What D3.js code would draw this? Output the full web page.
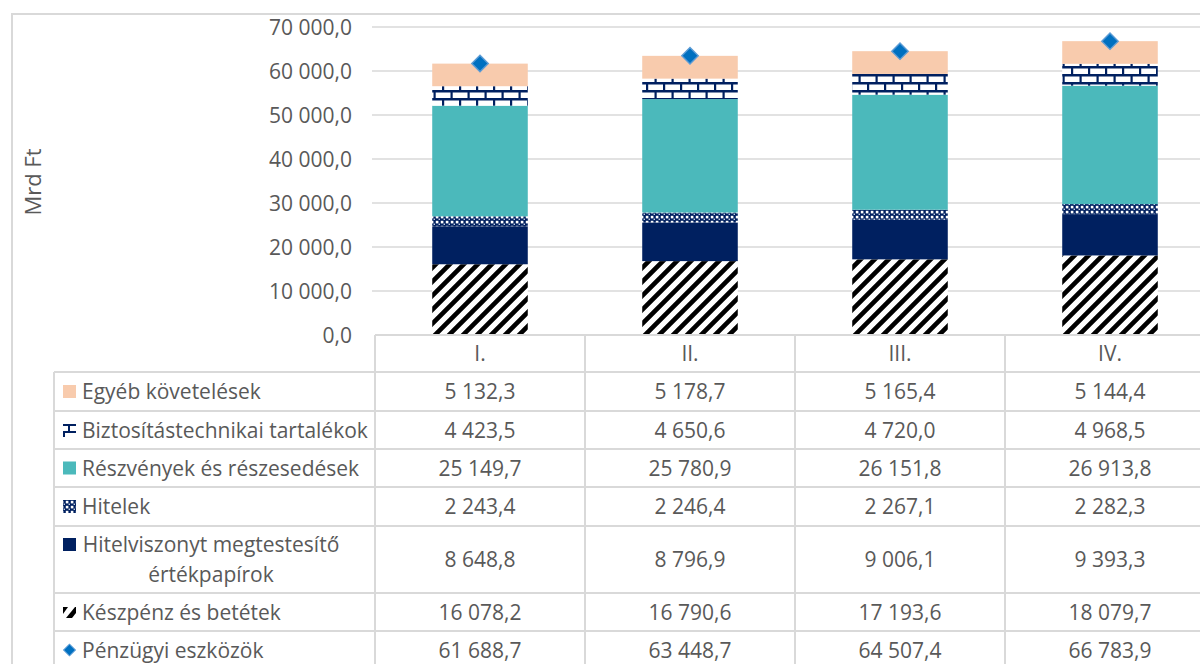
<!DOCTYPE html>
<html><head><meta charset="utf-8">
<script src="https://cdn.jsdelivr.net/npm/d3@7"></script>
<style>
html,body{margin:0;padding:0;background:#fff;}
svg{display:block;font-family:"Open Sans",sans-serif;}
</style></head>
<body><svg id="c" width="1200" height="664"></svg>
<script>
const categories = ["I.", "II.", "III.", "IV."];
const keszpenz = [16078.2, 16790.6, 17193.6, 18079.7];
const hitelviszonyt = [8648.8, 8796.9, 9006.1, 9393.3];
const hitelek = [2243.4, 2246.4, 2267.1, 2282.3];
const reszvenyek = [25149.7, 25780.9, 26151.8, 26913.8];
const biztositas = [4423.5, 4650.6, 4720.0, 4968.5];
const egyeb = [5132.3, 5178.7, 5165.4, 5144.4];
const penzugyi = [61688.7, 63448.7, 64507.4, 66783.9];
const yTicks = [0, 10000, 20000, 30000, 40000, 50000, 60000, 70000];

// stacking order bottom -> top
const seriesDefs = [
  {name: "Készpénz és betétek", values: keszpenz, fill: "url(#pStripe)"},
  {name: "Hitelviszonyt megtestesítő értékpapírok", values: hitelviszonyt, fill: "#002060"},
  {name: "Hitelek", values: hitelek, fill: "url(#pDots)"},
  {name: "Részvények és részesedések", values: reszvenyek, fill: "#4bb9bb"},
  {name: "Biztosítástechnikai tartalékok", values: biztositas, fill: "url(#pBrick)"},
  {name: "Egyéb követelések", values: egyeb, fill: "#f8cbad"}
];

const svg = d3.select("#c");
const grey = "#d9d9d9", txt = "#595959", navy = "#002060";
const hu = d3.formatLocale({decimal: ",", thousands: " ", grouping: [3], currency: ["", ""]});
const fmt = hu.format(",.1f");

// patterns
const defs = svg.append("defs");
const ps = defs.append("pattern").attr("id", "pStripe").attr("patternUnits", "userSpaceOnUse")
  .attr("width", 14).attr("height", 14);
ps.append("rect").attr("width", 14).attr("height", 14).attr("fill", "#fff");
ps.append("path").attr("d", "M-2,16 L16,-2 M-9,9 L9,-9 M5,23 L23,5").attr("stroke", "#000").attr("stroke-width", 4.6);

const pd = defs.append("pattern").attr("id", "pDots").attr("patternUnits", "userSpaceOnUse")
  .attr("width", 5).attr("height", 5);
pd.append("rect").attr("width", 5).attr("height", 5).attr("fill", navy);
pd.append("rect").attr("x", 0.8).attr("y", 0.8).attr("width", 2.6).attr("height", 2.6).attr("fill", "#fff");
pd.append("rect").attr("x", 3.6).attr("y", 3.6).attr("width", 1.4).attr("height", 1.4).attr("fill", "#c9d3e6");

const pb = defs.append("pattern").attr("id", "pBrick").attr("patternUnits", "userSpaceOnUse")
  .attr("width", 17).attr("height", 16).attr("y", 2);
pb.append("rect").attr("width", 17).attr("height", 16).attr("fill", "#fff");
pb.append("rect").attr("x", 0).attr("y", 0).attr("width", 17).attr("height", 2.5).attr("fill", navy);
pb.append("rect").attr("x", 0).attr("y", 8).attr("width", 17).attr("height", 2.5).attr("fill", navy);
pb.append("rect").attr("x", 0).attr("y", 0).attr("width", 2.2).attr("height", 8).attr("fill", navy);
pb.append("rect").attr("x", 8.5).attr("y", 8).attr("width", 2.2).attr("height", 8).attr("fill", navy);

// outer border
svg.append("rect").attr("x", 12).attr("y", 14).attr("width", 1300).attr("height", 800)
  .attr("fill", "none").attr("stroke", grey).attr("stroke-width", 2);

// scales
const x = d3.scaleBand().domain(categories).range([375, 1215]);
const y = d3.scaleLinear().domain([0, 70000]).range([335, 27]);
const barW = x.bandwidth() * 0.455;

// gridlines
svg.append("g").selectAll("line").data(yTicks.filter(d => d > 0)).join("line")
  .attr("x1", 372).attr("x2", 1215).attr("y1", d => y(d)).attr("y2", d => y(d))
  .attr("stroke", grey).attr("stroke-width", 1.3);

// y axis labels
svg.append("g").selectAll("text").data(yTicks).join("text")
  .attr("x", 352).attr("y", d => y(d)).attr("dy", "0.36em").attr("text-anchor", "end")
  .attr("font-size", 21).attr("fill", txt).text(d => fmt(d));

svg.append("text").attr("transform", "translate(41,182) rotate(-90)")
  .attr("text-anchor", "middle").attr("font-size", 22).attr("fill", txt).text("Mrd Ft");

// stacks
const stackData = categories.map((c, i) => {
  const o = {cat: c};
  seriesDefs.forEach((s, j) => o["s" + j] = s.values[i]);
  return o;
});
const stacked = d3.stack().keys(seriesDefs.map((s, j) => "s" + j))(stackData);
const gBars = svg.append("g");
stacked.forEach((layer, j) => {
  gBars.append("g").selectAll("rect").data(layer).join("rect")
    .attr("x", d => x(d.data.cat) + (x.bandwidth() - barW) / 2)
    .attr("width", barW)
    .attr("y", d => y(d[1]))
    .attr("height", d => y(d[0]) - y(d[1]))
    .attr("fill", seriesDefs[j].fill);
});

// diamonds
svg.append("g").selectAll("path").data(categories).join("path")
  .attr("d", d3.symbol().type(d3.symbolSquare).size(135)())
  .attr("transform", (c, i) => `translate(${x(c) + x.bandwidth() / 2},${y(penzugyi[i])}) rotate(45)`)
  .attr("fill", "#0070c0").attr("stroke", "#5b9bd5").attr("stroke-width", 1.4);

// data table
const rows = [
  {label: ["Egyéb követelések"], values: egyeb, icon: "egyeb"},
  {label: ["Biztosítástechnikai tartalékok"], values: biztositas, icon: "brick"},
  {label: ["Részvények és részesedések"], values: reszvenyek, icon: "teal"},
  {label: ["Hitelek"], values: hitelek, icon: "dots"},
  {label: ["Hitelviszonyt megtestesítő", "értékpapírok"], values: hitelviszonyt, icon: "navy"},
  {label: ["Készpénz és betétek"], values: keszpenz, icon: "stripe"},
  {label: ["Pénzügyi eszközök"], values: penzugyi, icon: "diamond"}
];
const rowEdges = [372, 411, 449, 487, 526, 593, 631, 669];
const gT = svg.append("g");
gT.append("line").attr("x1", 375).attr("x2", 1215).attr("y1", 335).attr("y2", 335).attr("stroke", grey).attr("stroke-width", 2);
rowEdges.forEach(yy => gT.append("line").attr("x1", 54).attr("x2", 1215).attr("y1", yy).attr("y2", yy).attr("stroke", grey).attr("stroke-width", 2));
gT.append("line").attr("x1", 54).attr("x2", 54).attr("y1", 372).attr("y2", 700).attr("stroke", grey).attr("stroke-width", 2);
categories.forEach(c => gT.append("line").attr("x1", x(c)).attr("x2", x(c)).attr("y1", 335).attr("y2", 700).attr("stroke", grey).attr("stroke-width", 2));
gT.selectAll("text.hdr").data(categories).join("text").attr("class", "hdr")
  .attr("x", c => x(c) + x.bandwidth() / 2).attr("y", 353).attr("dy", "0.36em")
  .attr("text-anchor", "middle").attr("font-size", 21).attr("fill", txt).text(c => c);

rows.forEach((r, i) => {
  const top = rowEdges[i], bot = rowEdges[i + 1], cy = (top + bot) / 2;
  categories.forEach((c, k) => {
    gT.append("text").attr("x", x(c) + x.bandwidth() / 2).attr("y", cy).attr("dy", "0.36em")
      .attr("text-anchor", "middle").attr("font-size", 21).attr("fill", txt).text(fmt(r.values[k]));
  });
  if (r.label.length === 1) {
    gT.append("text").attr("x", 82).attr("y", cy).attr("dy", "0.36em")
      .attr("font-size", 21).attr("fill", txt).text(r.label[0]);
  } else {
    gT.append("text").attr("x", 211).attr("y", cy - 15).attr("dy", "0.36em").attr("text-anchor", "middle")
      .attr("font-size", 21).attr("fill", txt).text(r.label[0]);
    gT.append("text").attr("x", 211).attr("y", cy + 15).attr("dy", "0.36em").attr("text-anchor", "middle")
      .attr("font-size", 21).attr("fill", txt).text(r.label[1]);
  }
  const iy = r.label.length === 1 ? cy : cy - 15;
  const ix = 63, s = 13;
  const g = gT.append("g");
  if (r.icon === "egyeb") g.append("rect").attr("x", ix).attr("y", iy - s / 2).attr("width", s).attr("height", s).attr("fill", "#f8cbad");
  if (r.icon === "teal") g.append("rect").attr("x", ix).attr("y", iy - s / 2).attr("width", s).attr("height", s).attr("fill", "#4bb9bb");
  if (r.icon === "navy") g.append("rect").attr("x", ix).attr("y", iy - s / 2).attr("width", s).attr("height", s).attr("fill", navy);
  if (r.icon === "dots") g.append("rect").attr("x", ix).attr("y", iy - s / 2).attr("width", s).attr("height", s).attr("fill", "url(#pDots)");
  if (r.icon === "stripe") {
    g.append("path").attr("d", `M${ix},${iy + 2} L${ix + 5},${iy - 5} L${ix},${iy - 5} Z`).attr("fill", "#000");
    g.append("path").attr("d", `M${ix + 3},${iy + 6} L${ix + 12},${iy - 5} L${ix + 13},${iy - 5} L${ix + 13},${iy + 1} L${ix + 9},${iy + 6} Z`).attr("fill", "#000");
  }
  if (r.icon === "brick") {
    g.append("rect").attr("x", ix).attr("y", iy - 6).attr("width", 13).attr("height", 2).attr("fill", navy);
    g.append("rect").attr("x", ix).attr("y", iy + 1).attr("width", 13).attr("height", 2).attr("fill", navy);
    g.append("rect").attr("x", ix + 5).attr("y", iy - 6).attr("width", 2).attr("height", 7).attr("fill", navy);
    g.append("rect").attr("x", ix).attr("y", iy + 1).attr("width", 2).attr("height", 6).attr("fill", navy);
  }
  if (r.icon === "diamond") g.append("path").attr("transform", `translate(${ix + 6.5},${iy}) rotate(45)`)
    .attr("d", d3.symbol().type(d3.symbolSquare).size(70)()).attr("fill", "#0070c0").attr("stroke", "#5b9bd5");
});
</script></body></html>
